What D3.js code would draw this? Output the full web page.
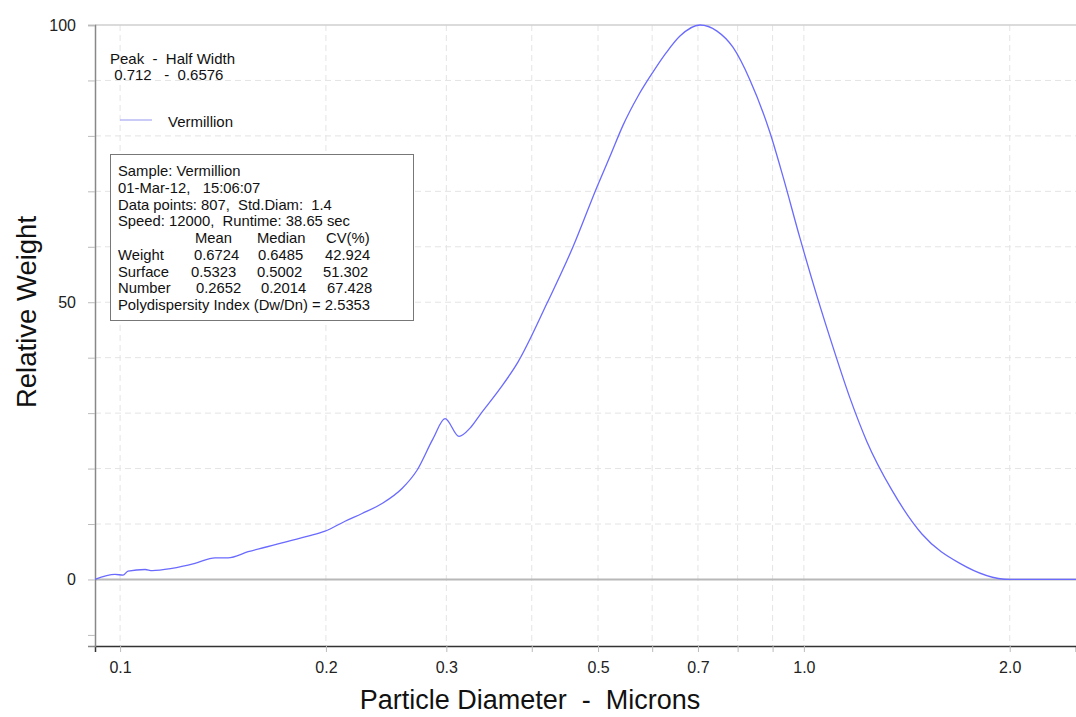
<!DOCTYPE html>
<html>
<head>
<meta charset="utf-8">
<script src="https://cdn.jsdelivr.net/npm/d3@7"></script>
<style>
  body { margin: 0; background: #fff; }
  svg { display: block; font-family: "Liberation Sans", Arial, Helvetica, sans-serif; }
</style>
</head>
<body>
<div id="chart"></div>
<script>
let width = 1076,
    height = 717,
    margin = ({ top: 25, right: 0, bottom: 71, left: 95 });

// particle size distribution
const diameters = [0.0919, 0.0983, 0.101, 0.1027, 0.1088, 0.1114, 0.1191, 0.1287, 0.1377, 0.1438,
  0.1539, 0.1725, 0.1883, 0.1994, 0.2133, 0.2259, 0.2416, 0.2584, 0.2718, 0.2869,
  0.2987, 0.3131, 0.3249, 0.336, 0.3594, 0.3818, 0.421, 0.4596, 0.4982, 0.5217,
  0.5438, 0.5722, 0.6015, 0.6299, 0.6588, 0.7047, 0.7463, 0.7874, 0.8339, 0.892,
  0.9319, 0.9867, 1.045, 1.103, 1.168, 1.236, 1.345, 1.488, 1.691, 2.0, 2.5];
const weights = [0, 0.9, 0.8, 1.5, 1.8, 1.6, 2.0, 2.9, 3.9, 3.9,
  5.0, 6.6, 7.8, 8.7, 10.5, 11.9, 13.7, 16.4, 19.7, 25.4,
  29.0, 25.8, 27.3, 29.7, 34.4, 39.2, 49.8, 60.0, 70.8, 76.6,
  81.9, 87.2, 91.5, 95.1, 98.0, 100, 98.9, 96.0, 90.1, 80.6,
  72.7, 61.6, 51.1, 41.9, 32.7, 24.9, 16.1, 8.2, 2.9, 0, 0];

const xTicks = [0.1, 0.2, 0.3, 0.4, 0.5, 0.6, 0.7, 0.8, 0.9, 1.0, 2.0];
const xLabels = ["0.1", "0.2", "0.3", "", "0.5", "", "0.7", "", "", "1.0", "2.0"];
const yTicks = [-10, 0, 10, 20, 30, 40, 50, 60, 70, 80, 90, 100];
const yLabels = [0, 50, 100];

const seriesName = "Vermillion";
const peakInfo = ["Peak  -  Half Width", " 0.712   -  0.6576"];
const sampleLines = ["Sample: Vermillion", "01-Mar-12,   15:06:07",
  "Data points: 807,  Std.Diam:  1.4", "Speed: 12000,  Runtime: 38.65 sec"];
const statHeads = ["Mean", "Median", "CV(%)"];
const statRows = ["Weight", "Surface", "Number"];
const statValues = [["0.6724", "0.6485", "42.924"],
                    ["0.5323", "0.5002", "51.302"],
                    ["0.2652", "0.2014", "67.428"]];
const pdiLine = "Polydispersity Index (Dw/Dn) = 2.5353";

const data = diameters.map((d, i) => ({ d: d, w: weights[i] }));

const svg = d3.select("#chart")
  .append("svg")
  .attr("width", width)
  .attr("height", height);

let x = d3.scaleLog()
  .domain([0.0919, 2.5])
  .range([margin.left, width - margin.right]);

let y = d3.scaleLinear()
  .domain([-12, 100])
  .range([height - margin.bottom, margin.top]);

// grid lines
svg.append("g")
  .selectAll("line")
  .data(xTicks)
  .join("line")
  .attr("x1", d => x(d)).attr("x2", d => x(d))
  .attr("y1", margin.top).attr("y2", height - margin.bottom)
  .attr("stroke", "#e4e4e4")
  .attr("stroke-dasharray", "6,4");

svg.append("g")
  .selectAll("line")
  .data(yTicks.filter(d => d > 0 && d < 100))
  .join("line")
  .attr("x1", margin.left).attr("x2", width - margin.right)
  .attr("y1", d => y(d)).attr("y2", d => y(d))
  .attr("stroke", "#e4e4e4")
  .attr("stroke-dasharray", "6,4");

// top line and zero line
svg.append("line")
  .attr("x1", margin.left).attr("x2", width)
  .attr("y1", y(100)).attr("y2", y(100))
  .attr("stroke", "#cfcfcf").attr("stroke-width", 1.5);

svg.append("line")
  .attr("x1", margin.left).attr("x2", width)
  .attr("y1", y(0)).attr("y2", y(0))
  .attr("stroke", "#b8b8b8").attr("stroke-width", 2);

// x axis
const xAxis = svg.append("g")
  .attr("transform", `translate(0,${height - margin.bottom})`)
  .call(d3.axisBottom(x).tickValues(xTicks).tickSize(6).tickPadding(10)
    .tickFormat((d, i) => xLabels[i]));
xAxis.select(".domain").attr("stroke", "#333").attr("stroke-width", 1.5);
xAxis.selectAll(".tick line").attr("stroke", "#bbb");
xAxis.selectAll(".tick text").attr("font-size", 16).attr("fill", "#222")
  .attr("font-family", "Liberation Sans, Arial, sans-serif");

// y axis
const yAxis = svg.append("g")
  .attr("transform", `translate(${margin.left},0)`)
  .call(d3.axisLeft(y).tickValues(yTicks).tickSize(7).tickPadding(12)
    .tickFormat(d => yLabels.includes(d) ? d : ""));
yAxis.select(".domain").attr("stroke", "#888").attr("stroke-width", 1.5);
yAxis.selectAll(".tick line").attr("stroke", "#bbb");
yAxis.selectAll(".tick text").attr("font-size", 16).attr("fill", "#222")
  .attr("font-family", "Liberation Sans, Arial, sans-serif");

// distribution curve
svg.append("path")
  .datum(data)
  .attr("fill", "none")
  .attr("stroke", "#6a6aff")
  .attr("stroke-width", 1.3)
  .attr("d", d3.line()
    .x(d => x(d.d))
    .y(d => y(d.w))
    .curve(d3.curveMonotoneX));

// axis titles
svg.append("text")
  .attr("x", 530).attr("y", 709)
  .attr("text-anchor", "middle")
  .attr("font-size", 27)
  .attr("fill", "#111")
  .style("white-space", "pre")
  .text("Particle Diameter  -  Microns");

svg.append("text")
  .attr("transform", "translate(36,312) rotate(-90)")
  .attr("text-anchor", "middle")
  .attr("font-size", 27.5)
  .attr("fill", "#111")
  .text("Relative Weight");

// peak info
svg.append("g")
  .selectAll("text")
  .data(peakInfo)
  .join("text")
  .attr("x", 110)
  .attr("y", (d, i) => 64 + i * 16)
  .attr("font-size", 15)
  .attr("fill", "#111")
  .style("white-space", "pre")
  .text(d => d);

// legend
svg.append("line")
  .attr("x1", 120).attr("x2", 152)
  .attr("y1", 120).attr("y2", 120)
  .attr("stroke", "#a8a8f4").attr("stroke-width", 1.2);
svg.append("text")
  .attr("x", 168).attr("y", 127)
  .attr("font-size", 15).attr("fill", "#111")
  .text(seriesName);

// stats box
const box = svg.append("g");
box.append("rect")
  .attr("x", 110.5).attr("y", 154.5)
  .attr("width", 303).attr("height", 166)
  .attr("fill", "#fff")
  .attr("stroke", "#777");

const lh = 16.75, top0 = 176, tx = 118, fs = 14.8;
box.selectAll(".info")
  .data(sampleLines)
  .join("text")
  .attr("class", "info")
  .attr("x", tx)
  .attr("y", (d, i) => top0 + i * lh)
  .attr("font-size", fs).attr("fill", "#111")
  .style("white-space", "pre")
  .text(d => d);

const headX = [195, 257, 326];
box.selectAll(".head")
  .data(statHeads)
  .join("text")
  .attr("class", "head")
  .attr("x", (d, i) => headX[i])
  .attr("y", top0 + 4 * lh)
  .attr("font-size", fs).attr("fill", "#111")
  .text(d => d);

const valX = [[194, 258, 325], [191, 257, 323], [196, 261, 327]];
statRows.forEach((r, j) => {
  const yy = top0 + (5 + j) * lh;
  box.append("text")
    .attr("x", tx).attr("y", yy)
    .attr("font-size", fs).attr("fill", "#111")
    .text(r);
  box.selectAll(".v" + j)
    .data(statValues[j])
    .join("text")
    .attr("class", "v" + j)
    .attr("x", (d, i) => valX[j][i])
    .attr("y", yy)
    .attr("font-size", fs).attr("fill", "#111")
    .text(d => d);
});

box.append("text")
  .attr("x", tx).attr("y", top0 + 8 * lh)
  .attr("font-size", fs).attr("fill", "#111")
  .text(pdiLine);
</script>
</body>
</html>
